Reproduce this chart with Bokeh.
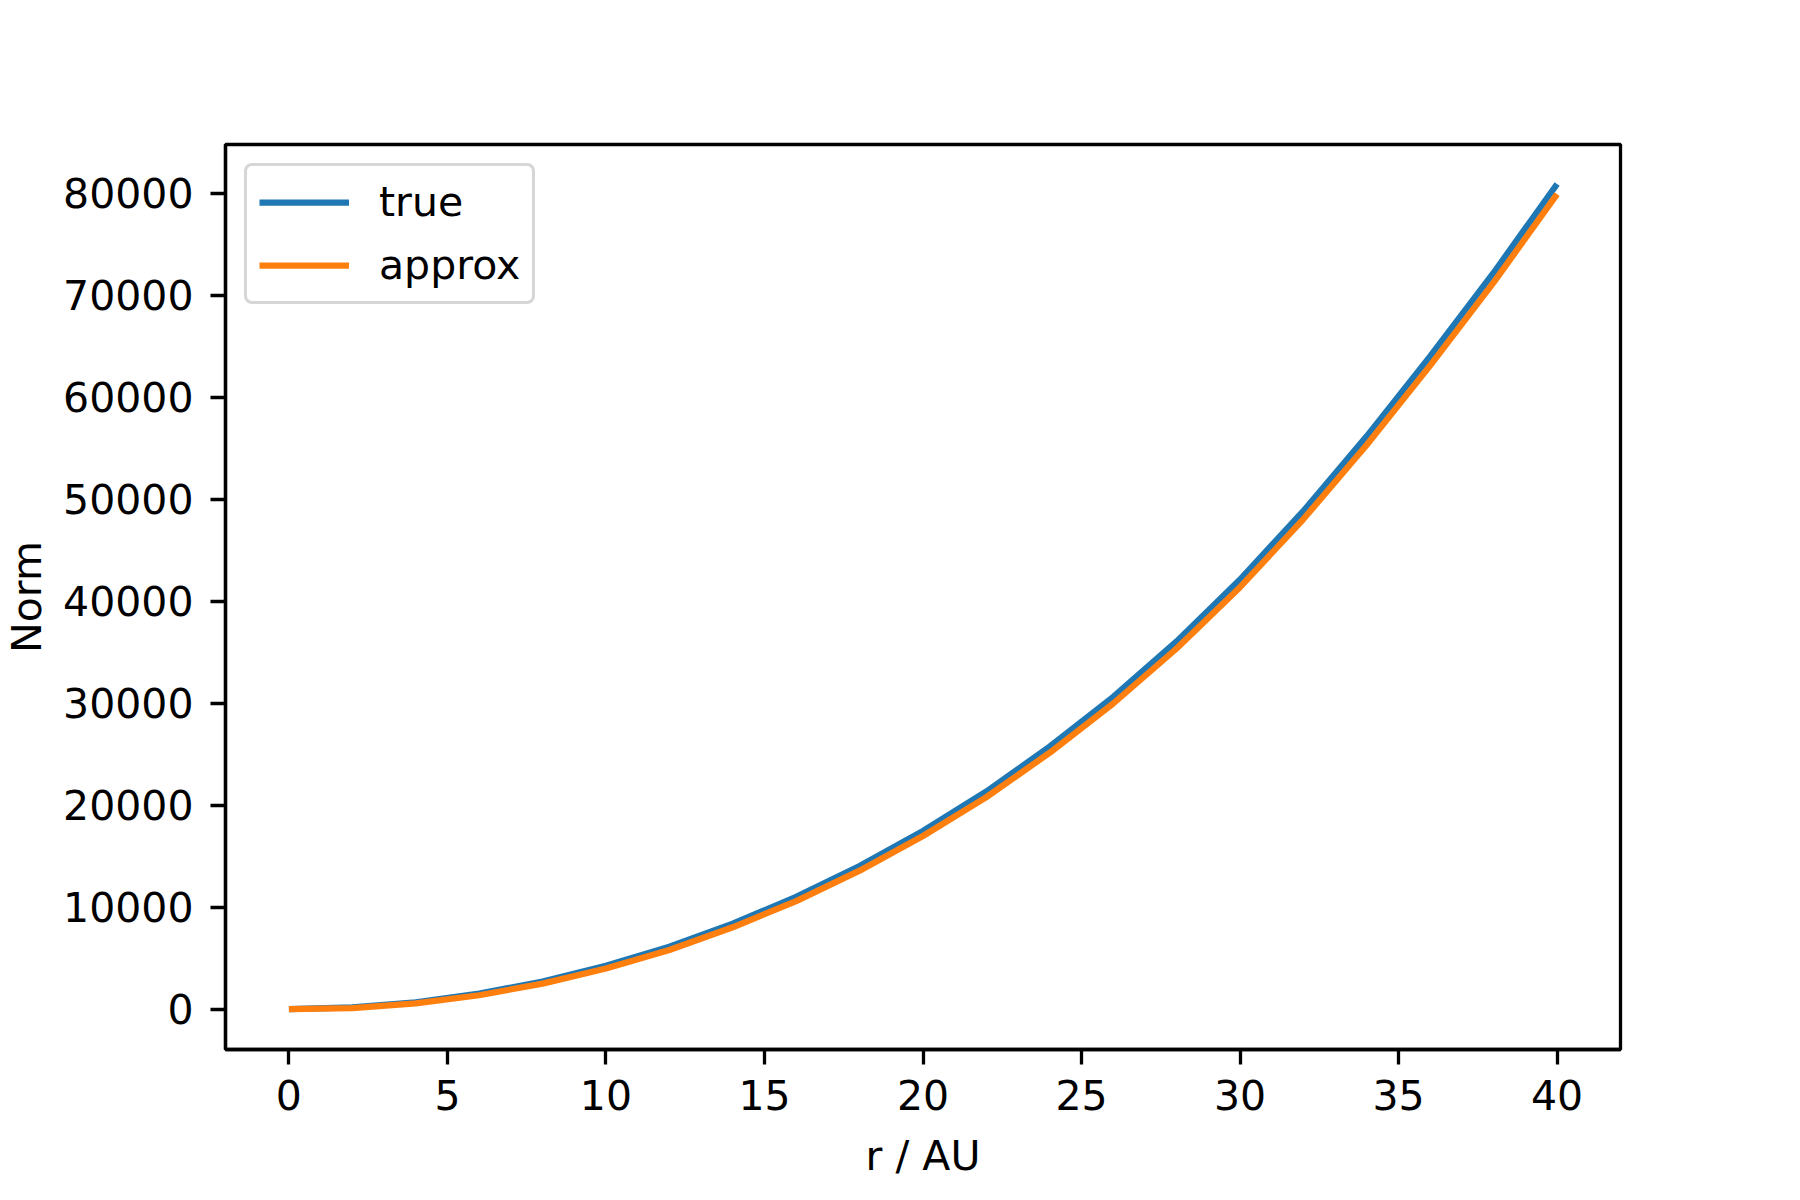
from bokeh.plotting import figure
from bokeh.models import FixedTicker, Range1d, Legend, LegendItem, BasicTickFormatter
from bokeh.embed import file_html
from bokeh.resources import INLINE

# Data
r_au = [0, 2, 4, 6, 8, 10, 12, 14, 16, 18, 20, 22, 24, 26, 28, 30, 32, 34, 36, 38, 40]
norm_true = [0, 170, 680, 1530, 2720, 4250, 6120, 8390, 11010, 14030, 17480,
             21340, 25750, 30620, 36060, 42120, 48850, 56180, 64020, 72200, 80900]
norm_approx = [0, 110, 570, 1370, 2510, 3990, 5810, 8030, 10600, 13580, 16980,
               20790, 25150, 29970, 35360, 41370, 48050, 55330, 63120, 71250, 79900]

x_ticks = [0, 5, 10, 15, 20, 25, 30, 35, 40]
y_ticks = [0, 10000, 20000, 30000, 40000, 50000, 60000, 70000, 80000]

FONT = "DejaVu Sans"
FS = "41px"

p = figure(width=1780, height=1198, output_backend="svg", toolbar_location=None,
           x_range=Range1d(-2, 42), y_range=Range1d(-3950, 84770),
           min_border_left=225, min_border_right=160, min_border_top=144, min_border_bottom=149)
p.background_fill_color = "white"
p.border_fill_color = "white"
p.grid.visible = False
p.outline_line_color = "black"
p.outline_line_width = 3.3

l1 = p.line(r_au, norm_true, line_color="#1f77b4", line_width=6.25)
l2 = p.line(r_au, norm_approx, line_color="#ff7f0e", line_width=6.25)

for ax in (p.xaxis[0], p.yaxis[0]):
    ax.axis_line_width = 3.3
    ax.axis_line_color = "black"
    ax.major_tick_line_width = 3.3
    ax.major_tick_line_color = "black"
    ax.major_tick_out = 15
    ax.major_tick_in = 0
    ax.minor_tick_line_color = None
    ax.major_label_text_font = FONT
    ax.major_label_text_font_size = FS
    ax.major_label_text_color = "black"
    ax.axis_label_text_font = FONT
    ax.axis_label_text_font_size = FS
    ax.axis_label_text_font_style = "normal"
    ax.axis_label_text_color = "black"

p.xaxis.ticker = FixedTicker(ticks=x_ticks)
p.yaxis.ticker = FixedTicker(ticks=y_ticks)
p.yaxis.formatter = BasicTickFormatter(use_scientific=False)
p.xaxis.axis_label = "r / AU"
p.yaxis.axis_label = "Norm"
p.xaxis.major_label_standoff = 15
p.yaxis.major_label_standoff = 17
p.xaxis.axis_label_standoff = 19
p.yaxis.axis_label_standoff = 9

legend = Legend(items=[LegendItem(label="true", renderers=[l1]),
                       LegendItem(label="approx", renderers=[l2])],
                location="top_left")
legend.margin = 19
legend.padding = 12
legend.spacing = 15
legend.glyph_width = 90
legend.glyph_height = 46
legend.label_height = 46
legend.label_standoff = 30
legend.label_text_font = FONT
legend.label_text_font_size = FS
legend.label_text_color = "black"
legend.border_line_color = "#cccccc"
legend.border_line_alpha = 0.8
legend.border_line_width = 3.3
legend.background_fill_color = "white"
legend.background_fill_alpha = 0.8
try:
    legend.border_radius = 8
except Exception:
    pass
p.add_layout(legend)

open("out.html", "w").write(file_html(p, INLINE))
